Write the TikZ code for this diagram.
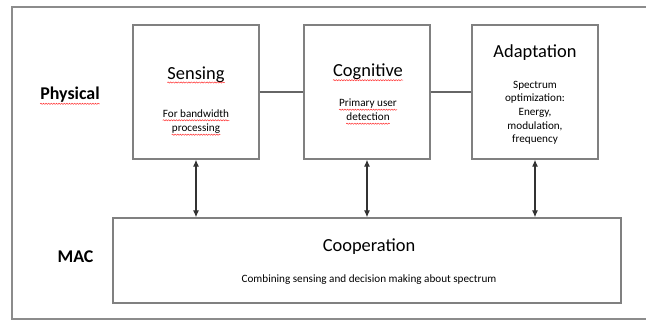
\documentclass[tikz,border=0pt]{standalone}
\usepackage{fontspec}
\setmainfont{Carlito}
\usetikzlibrary{decorations.pathmorphing,arrows.meta}
\begin{document}
\begin{tikzpicture}[x=1bp,y=-1bp,
  frame/.style={draw=black!45,line width=1.4bp},
  block/.style={draw=black!50,line width=1.4bp,minimum height=134bp,minimum width=126bp,inner sep=0pt},
  link/.style={draw=black!60,line width=1.1bp},
  dual/.style={draw=black!80,line width=1.1bp,{Latex[length=7bp,width=6bp]}-{Latex[length=7bp,width=6bp]}},
  title/.style={anchor=base,inner sep=0pt,font=\fontsize{18.5}{22}\selectfont,text=black},
  note/.style={anchor=base,inner sep=0pt,font=\fontsize{11.2}{13}\selectfont,text=black},
  layer/.style={anchor=base,inner sep=0pt,font=\bfseries\fontsize{18}{22}\selectfont},
  squiggle/.style={draw=red!80,line width=0.5bp,decorate,decoration={snake,amplitude=0.6bp,segment length=2.6bp}}
]
\useasboundingbox (0,0) rectangle (646,321);
\fill[white] (0,0) rectangle (646,321);

% outer frame, open on the right
\draw[frame] (646,7) -- (12,7) -- (12,319) -- (646,319);

% blocks
\node[block] (sens) at (196,92) {};
\node[block] (cog) at (367,92) {};
\node[block] (adapt) at (535,92) {};
\node[block,minimum width=508bp,minimum height=85bp] (coop) at (367,260.5) {};

% horizontal links
\draw[link] (sens.east) -- (cog.west);
\draw[link] (cog.east) -- (adapt.west);

% vertical two-way arrows
\draw[dual] (sens.south) -- (sens.south |- coop.north);
\draw[dual] (cog.south) -- (cog.south |- coop.north);
\draw[dual] (adapt.south) -- (adapt.south |- coop.north);

% layer labels
\node[layer] (phys) at (70,99.3) {Physical};
\node[layer] (mac) at (75.5,262.7) {MAC};

% Sensing
\node[title] (tsens) at (196,79) {Sensing};
\node[note] (s1) at (196,117.3) {For bandwidth};
\node[note] (s2) at (196,131.7) {processing};

% Cognitive
\node[title] (tcog) at (368,76.7) {Cognitive};
\node[note] (c1) at (368,106.7) {Primary user};
\node[note] (c2) at (368,120.7) {detection};

% Adaptation
\node[title] (tadapt) at (535,57.3) {Adaptation};
\node[note] (a1) at (535,88.3) {Spectrum};
\node[note] (a2) at (535,101.7) {optimization:};
\node[note] (a3) at (535,115.7) {Energy,};
\node[note] (a4) at (535,129.3) {modulation,};
\node[note] (a5) at (535,142.7) {frequency};

% Cooperation
\node[title] (tcoop) at (369,251.7) {Cooperation};
\node[note] (p1) at (369,282.3) {Combining sensing and decision making about spectrum};

% spell-check underlines
\foreach \n/\d in {phys/4.5,tsens/3.5,s1/3,s2/3,tcog/3.5,c1/3,c2/3}{
  \draw[squiggle] ([yshift=-\d bp]\n.base west) -- ([yshift=-\d bp]\n.base east);
}
\end{tikzpicture}
\end{document}
